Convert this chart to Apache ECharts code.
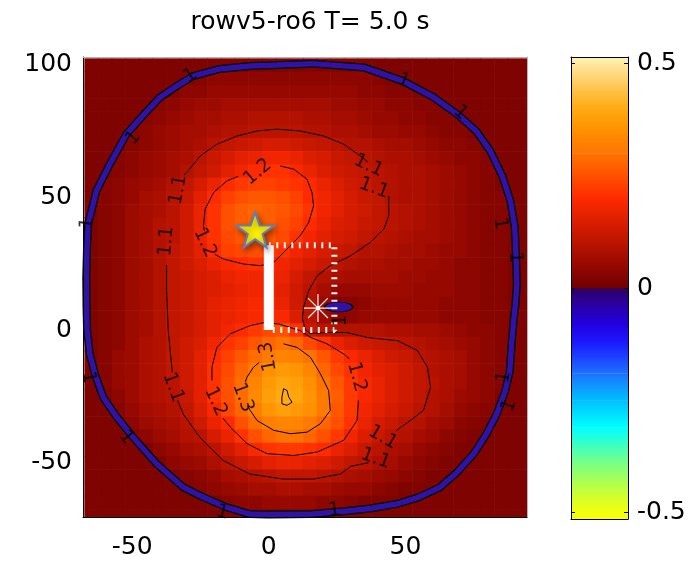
<!DOCTYPE html>
<html>
<head>
<meta charset="utf-8">
<script src="https://cdn.jsdelivr.net/npm/echarts@6/dist/echarts.min.js"></script>
<style>
  html, body { margin: 0; padding: 0; background: #ffffff; }
  #chart { width: 695px; height: 563px; }
</style>
</head>
<body>
<div id="chart"></div>
<script>
// ---- field grid (cell centres) ----
const fieldX = [-65,-60,-55,-50,-45,-40,-35,-30,-25,-20,-15,-10,-5,0,5,10,15,20,25,30,35,40,45,50,55,60,65,70,75,80,85,90,95];
const fieldY = [100,95,90,85,80,75,70,65,60,55,50,45,40,35,30,25,20,15,10,5,0,-5,-10,-15,-20,-25,-30,-35,-40,-45,-50,-55,-60,-65,-70];
const CELL = 5;

// field value x 100, one row per fieldY entry (top row first)
const fieldRows = [
  [2,2,2,2,2,2,2,2,2,2,2,2,2,2,2,2,2,2,2,2,2,2,2,2,2,2,2,2,2,2,2,2,2],
  [2,2,2,2,2,2,2,2,3,4,4,4,4,4,4,4,4,4,4,4,4,3,2,2,2,2,2,2,2,2,2,2,2],
  [2,2,2,2,2,2,3,4,4,5,5,5,5,5,5,5,5,5,5,5,4,4,3,3,2,2,2,2,2,2,2,2,2],
  [2,2,2,2,2,3,4,5,6,6,7,7,7,7,7,7,7,7,6,6,5,5,4,4,3,3,2,2,2,2,2,2,2],
  [2,2,2,2,3,4,5,6,7,7,8,8,9,9,9,9,8,8,7,7,6,5,5,4,4,3,3,2,2,2,2,2,2],
  [2,2,2,3,4,5,6,7,7,8,9,9,10,10,10,10,9,9,8,8,7,6,6,5,5,4,3,3,2,2,2,2,2],
  [2,2,2,3,4,5,6,7,8,10,11,12,13,14,14,13,12,11,10,9,9,8,7,7,6,5,4,4,3,2,2,2,2],
  [2,2,3,4,5,6,7,8,10,12,14,16,17,18,18,17,15,14,12,11,10,9,8,8,7,6,5,4,4,3,2,2,2],
  [2,2,3,4,5,6,7,9,11,13,16,18,20,21,21,19,17,15,13,12,11,10,9,8,8,7,6,5,4,3,2,2,2],
  [2,3,4,5,6,7,9,11,14,17,20,22,23,23,22,21,20,17,15,13,12,10,9,8,8,7,6,5,4,3,2,2,2],
  [2,3,4,5,7,8,10,12,16,20,23,25,26,26,25,23,20,18,16,14,12,11,9,8,8,7,6,5,4,3,3,2,2],
  [2,3,4,6,7,8,10,13,17,21,25,27,28,27,26,24,21,18,16,14,13,11,10,9,8,7,6,5,4,3,3,2,2],
  [2,3,4,6,7,9,10,13,17,21,25,27,28,27,25,23,20,17,15,14,12,11,10,9,8,7,6,5,4,3,3,2,2],
  [2,3,4,6,7,9,10,13,17,21,24,26,27,26,24,21,18,16,14,13,11,10,9,8,7,7,6,5,4,3,3,2,2],
  [2,3,4,6,7,9,11,13,16,20,23,24,25,23,21,18,16,14,12,11,9,9,8,7,7,6,5,5,4,3,3,2,2],
  [2,3,4,6,7,9,11,13,15,17,19,20,21,20,18,16,14,12,10,9,8,8,7,7,6,6,5,4,4,3,3,2,2],
  [2,3,4,6,7,9,11,12,14,15,17,18,18,18,17,14,11,9,8,7,7,7,7,6,6,5,5,4,4,3,3,2,2],
  [2,3,4,6,7,9,11,12,14,15,16,17,18,18,16,13,10,7,5,5,5,6,6,6,5,5,5,4,4,3,3,2,2],
  [2,3,4,6,7,9,11,12,14,16,17,18,19,19,17,13,9,5,2,3,4,5,5,5,5,5,4,4,4,3,3,2,2],
  [2,3,4,6,7,9,11,12,14,16,17,18,19,20,19,15,10,6,3,4,5,5,5,5,5,5,4,4,4,3,3,2,2],
  [2,3,4,6,7,9,11,12,14,16,18,20,22,24,25,21,12,10,9,9,9,9,8,8,7,7,6,5,4,4,3,2,2],
  [2,3,4,6,8,9,11,13,15,18,21,23,26,28,30,28,24,21,17,15,13,12,11,10,9,8,7,6,5,4,3,2,2],
  [2,3,5,6,8,9,11,13,16,20,23,26,29,31,33,32,30,26,22,19,17,15,13,12,10,9,8,7,5,4,3,2,2],
  [2,3,5,6,8,9,11,13,16,21,24,28,31,35,37,36,33,28,24,21,18,16,15,13,11,9,8,7,5,4,3,2,2],
  [2,3,5,6,8,9,10,13,16,21,25,29,33,37,39,38,35,30,26,22,19,17,15,13,11,10,8,7,5,4,3,2,2],
  [2,2,4,6,8,9,10,12,16,21,25,29,34,38,40,39,36,31,27,22,19,17,15,13,11,9,8,6,5,4,2,2,2],
  [2,2,3,5,7,8,9,11,15,19,24,28,32,36,38,37,35,31,26,22,18,16,14,12,10,9,7,5,4,3,2,2,2],
  [2,2,2,4,6,7,8,10,13,17,20,25,29,32,33,33,31,28,25,21,17,14,12,10,9,7,6,4,3,2,2,2,2],
  [2,2,2,3,4,6,7,9,10,14,17,21,25,28,30,30,28,25,22,18,15,12,10,9,7,6,4,3,2,2,2,2,2],
  [2,2,2,2,2,4,5,7,8,10,13,16,19,21,22,22,21,20,17,15,12,10,8,7,5,4,3,2,2,2,2,2,2],
  [2,2,2,2,2,2,4,5,6,8,10,12,14,16,17,17,16,15,13,11,10,8,7,5,4,3,2,2,2,2,2,2,2],
  [2,2,2,2,2,2,2,3,4,5,7,8,9,10,11,11,11,10,9,8,7,6,5,4,3,2,2,2,2,2,2,2,2],
  [2,2,2,2,2,2,2,2,3,4,5,6,7,7,8,8,7,7,6,5,5,4,3,2,2,2,2,2,2,2,2,2,2],
  [2,2,2,2,2,2,2,2,2,2,3,4,4,5,5,5,5,4,4,3,2,2,2,2,2,2,2,2,2,2,2,2,2],
  [2,2,2,2,2,2,2,2,2,2,2,2,2,2,2,2,2,2,2,2,2,2,2,2,2,2,2,2,2,2,2,2,2]
];

// thin negative band (level 1 contour zone) around the domain
const ringPath = [
  [16,100.5],[35,99],[49,94],[60,88],[69,81.4],[76,75],[81,67.6],[85.5,58],[88.4,48.8],[90,39],[90.4,30],
  [90.8,17.5],[90.3,10],[89.6,3.5],[88.8,-6],[88.2,-15.4],[86.5,-23],[83.4,-31.7],[79.5,-39.5],[74.9,-46.8],
  [69,-53.5],[62.7,-59.3],[55,-63],[46.8,-65.6],[37,-67.3],[28.5,-68.2],[16,-69.4],[0,-69.6],[-7,-69.4],
  [-15.5,-66.8],[-24,-63],[-31.3,-59.3],[-41,-50.5],[-49.6,-40.5],[-55.5,-33],[-60.6,-25.4],[-63.5,-17],
  [-65.5,-9.1],[-66.5,0],[-66.7,8.5],[-66.8,20],[-66.5,32],[-66.1,40],[-63.1,52.5],[-58.5,62],[-52.1,73.9],
  [-46,81],[-39.9,87.7],[-33,92.5],[-27.7,95.8],[-18,98.5],[-6.9,99.6],[16,100.5]
];
const negativePocket = [[25.6, 8.7]];

// contour segments (broken where labels sit)
const contour11 = [
  [[-31,58.5],[-30,59.4],[-25.1,65.7],[-19,70.1],[-11.6,73.2],[-4.3,75.1],[3,75.8],[11.5,75.1],[20.1,73.2],[27.4,70.1],[33.5,65.7],[36.2,63.4]],
  [[43.9,50.6],[43.9,43.1],[42.1,38.1],[37.2,33.1],[29.9,28],[22.5,24.3],[17.7,20.5],[14.6,14.9],[12.7,8.5],[12.3,4.3],[13.3,0.3],[15.2,-1.3],[21.4,-0.9],[28.5,-0.9],[36.1,-2.8],[47.1,-4],[54.4,-7.7],[58.1,-14.1],[59.2,-21.6],[56.6,-30.3],[51.8,-34.1],[46.5,-38]],
  [[36.5,-50],[29.9,-51.4],[26.2,-54.3],[16.3,-56.2],[5.3,-56.2],[-6.9,-54.3],[-16.7,-49.2],[-25.2,-40.5],[-31.3,-31.7],[-33.4,-26.5]],
  [[-35.3,-16],[-35.6,-15.4],[-36.8,-0.2],[-37.4,14.9],[-37.4,24.5]]
];
const contour12 = [
  [[4.2,61.9],[9.1,60.7],[14,56.9],[15.8,51.9],[16.4,46.9],[14.6,40.6],[11.5,35.6],[6.7,30.6],[1.8,25.5],[-3.1,24.3],[-9.2,24.9],[-16.6,26.8],[-19.8,28.6]],
  [[-23.6,37.5],[-23.9,39.3],[-23.3,45.6],[-20.2,51.9],[-15.3,56.3],[-11.2,58]],
  [[32.8,-26.5],[32.3,-34.1],[27.4,-41.6],[17.7,-46],[9.1,-47.3],[-0.7,-46.6],[-8,-42.8],[-14.1,-36.6],[-16.8,-33.2]],
  [[-20.8,-19],[-20.8,-14],[-19,-6.5],[-14.1,-1.4],[-6.8,1.7],[-1.3,2.9],[4,2.2],[11.5,-0.2],[15.2,-2.7],[21.3,-5.2],[27.4,-9],[29.5,-10.8]]
];
const contour13 = [
  [[5.4,-5.2],[10.3,-6.5],[15.2,-10.2],[18.9,-16.5],[21.9,-22.8],[22.5,-30.3],[18.9,-35.3],[14,-38.5],[7.9,-39.1],[1.8,-37.8],[-4.3,-34.1],[-6.8,-30.3],[-7.8,-28.5]],
  [[-8.6,-19.5],[-8,-17.8],[-5.6,-14],[-3.5,-12.2]]
];
const contour14 = [
  [[5.4,-22.1],[6.7,-22.8],[7.3,-25.3],[8.5,-27.2],[6.7,-28.4],[4.8,-27.8],[4.8,-25.3],[5.4,-22.1]]
];

// contour labels: x, y, text, angle
const contourLabels = [
  [-4, 59.6, '1.2', 40], [-23.4, 32.9, '1.2', -65],
  [-33.1, 52.9, '1.1', 80], [-37.5, 33.5, '1.1', 85],
  [36.5, 62, '1.1', -25], [38.5, 53.5, '1.1', -20],
  [-35, -21.6, '1.1', -70], [-19.5, -27, '1.2', -65],
  [-9.5, -25.4, '1.3', -70], [-0.2, -10, '1.3', 100],
  [32.2, -17.7, '1.2', -75], [41.7, -40.5, '1.1', -30], [39.1, -48.5, '1.1', -20],
  [-28.7, 95.9, '1', 33], [-49.6, 72.5, '1', 50], [-66.4, 40.2, '1', 82],
  [-66, -17.8, '1', -80], [-52.2, -40.5, '1', -51], [-17, -68.8, '1', -15],
  [24, -68, '1', 5], [49.3, 94, '1', -23], [70.2, 82, '1', -42],
  [84.7, 40.2, '1', -80], [90.2, 27.4, '1', -88], [86.1, -17.8, '1', 80],
  [88, -28.5, '1', 70], [26.3, 3.6, '1', 90]
];

// markers
const sourceBar = [[0, 0], [0, 32]];
const sourceBox = [[0, 32], [24, 32], [24, 0], [0, 0]];
const sourcePoint = [[-5, 37.8]];
const receiverPoint = [[18, 8.3]];

// axes
const xTicks = [-50, 0, 50];
const yTicks = [-50, 0, 50, 100];
const cbarTicks = [-0.5, 0, 0.5];
const X_RANGE = [-68, 94.5];
const Y_RANGE = [-70.5, 103];
const C_RANGE = [-0.514, 0.514];

// colour map: value -> colour
const cmapStops = [
  [-0.514, '#ffff00'], [-0.45, '#c4ff3a'], [-0.38, '#6cff92'], [-0.31, '#00ffff'],
  [-0.25, '#00c0ff'], [-0.19, '#1e70ff'], [-0.12, '#1c18ff'], [-0.08, '#2200e0'],
  [-0.04, '#2a00a8'], [0, '#2c0062'],
  [0, '#700000'], [0.05, '#960800'], [0.1, '#ba1400'], [0.15, '#dc1e00'],
  [0.2, '#ff2a00'], [0.25, '#ff5000'], [0.3, '#ff7400'], [0.35, '#ff9000'],
  [0.4, '#ffaa10'], [0.45, '#ffc858'], [0.5, '#ffe9a0'], [0.514, '#fff2b0']
];

function hexRgb(h) { return [1, 3, 5].map(i => parseInt(h.slice(i, i + 2), 16)); }
function cmapColor(v) {
  for (let k = 0; k < cmapStops.length - 1; k++) {
    const [v0, c0] = cmapStops[k], [v1, c1] = cmapStops[k + 1];
    if (v1 > v0 && v >= v0 && v < v1) {
      const t = (v - v0) / (v1 - v0), a = hexRgb(c0), b = hexRgb(c1);
      return 'rgb(' + a.map((c, i) => Math.round(c + (b[i] - c) * t)).join(',') + ')';
    }
  }
  return v < cmapStops[0][0] ? cmapStops[0][1] : cmapStops[cmapStops.length - 1][1];
}
const cmapSamples = [];
for (let i = 0; i <= 514; i++) cmapSamples.push(cmapColor(Math.round((C_RANGE[0] + i * 0.002) * 1000) / 1000));

const cbarSegments = [];
for (let k = 0; k < cmapStops.length - 1; k++) {
  if (cmapStops[k + 1][0] > cmapStops[k][0]) {
    cbarSegments.push([cmapStops[k][0], cmapStops[k + 1][0], cmapStops[k][1], cmapStops[k + 1][1]]);
  }
}

const fieldData = [];
fieldRows.forEach((row, i) => row.forEach((v, j) => fieldData.push([fieldX[j], fieldY[i], v / 100])));

const FONT = 'DejaVu Sans';
const tickText = { fontFamily: FONT, fontSize: 25, color: '#000' };

function segSeries(pts, width, color, z) {
  return {
    type: 'line', xAxisIndex: 0, yAxisIndex: 0, data: pts, symbol: 'none', showSymbol: false,
    silent: true, z: z, lineStyle: { color: color, width: width, join: 'round' }
  };
}
function noAxisBits(extra) {
  return Object.assign({
    type: 'value', z: 10, splitLine: { show: false }, axisTick: { show: false },
    axisLabel: { show: false }
  }, extra);
}

const series = [];
// field
series.push({
  type: 'custom', xAxisIndex: 0, yAxisIndex: 0, data: fieldData, clip: true, silent: true, z: 1,
  encode: { x: 0, y: 1 },
  renderItem: function (params, api) {
    const x = api.value(0), y = api.value(1);
    const a = api.coord([x - CELL / 2, y + CELL / 2]);
    const b = api.coord([x + CELL / 2, y - CELL / 2]);
    return {
      type: 'rect',
      shape: { x: a[0], y: a[1], width: b[0] - a[0] + 0.6, height: b[1] - a[1] + 0.6 },
      style: { fill: api.visual('color') }
    };
  }
});
// negative band with its level-1 outlines
series.push(segSeries(ringPath, 8, '#000000', 3));
series.push(segSeries(ringPath, 5.5, '#3012a4', 3));
// contour lines
[contour11, contour12, contour13, contour14].forEach(level => level.forEach(seg => series.push(segSeries(seg, 1, '#000000', 4))));
// small negative pocket next to the receiver
series.push({
  type: 'scatter', xAxisIndex: 0, yAxisIndex: 0, data: negativePocket, symbol: 'circle', symbolSize: [28, 10],
  silent: true, z: 4, itemStyle: { color: '#3012a4', borderColor: '#000', borderWidth: 1, opacity: 1 }
});
// source bar and dotted box
series.push(Object.assign(segSeries(sourceBar, 10, '#ffffff', 5), { lineStyle: { color: '#ffffff', width: 10, cap: 'butt' } }));
series.push(Object.assign(segSeries(sourceBox, 6, '#ffffff', 5), {
  lineStyle: { color: 'rgba(255,255,255,0.95)', width: 6, type: [2, 5.5], cap: 'butt' }
}));
// labels
series.push({
  type: 'scatter', xAxisIndex: 0, yAxisIndex: 0, silent: true, z: 6, symbolSize: 1,
  itemStyle: { color: 'rgba(0,0,0,0)' },
  data: contourLabels.map(l => ({ value: [l[0], l[1]], label: { formatter: l[2], rotate: l[3] } })),
  label: { show: true, position: 'inside', color: '#000', fontFamily: FONT, fontSize: 19 }
});
// star (source)
series.push({
  type: 'scatter', xAxisIndex: 0, yAxisIndex: 0, data: sourcePoint, silent: true, z: 8,
  symbol: 'path://M50,0 L61.8,35.1 L98.9,35.1 L69.1,57.3 L79.4,92.7 L50,71 L20.6,92.7 L30.9,57.3 L1.1,35.1 L38.2,35.1 Z',
  symbolSize: [38, 35],
  itemStyle: {
    color: '#fff200', borderColor: '#5b7fbf', borderWidth: 2, opacity: 1,
    shadowBlur: 6, shadowColor: 'rgba(0,0,0,0.4)', shadowOffsetX: 2, shadowOffsetY: 3
  }
});
// asterisk (receiver)
series.push({
  type: 'scatter', xAxisIndex: 0, yAxisIndex: 0, data: receiverPoint, silent: true, z: 8,
  symbol: 'path://M0,10 L20,10 M10,0 L10,20 M2.9,2.9 L17.1,17.1 M17.1,2.9 L2.9,17.1',
  symbolSize: 28,
  itemStyle: { color: 'rgba(0,0,0,0)', borderColor: 'rgba(255,255,255,0.95)', borderWidth: 1.2, opacity: 1 }
});
series.push({
  type: 'scatter', xAxisIndex: 0, yAxisIndex: 0, data: receiverPoint, silent: true, z: 9,
  symbol: 'circle', symbolSize: 4, itemStyle: { color: '#ffffff', opacity: 1 }
});
// colour bar
series.push({
  type: 'custom', xAxisIndex: 2, yAxisIndex: 2, silent: true, z: 1,
  data: cbarSegments.map(s => [0, s[0], s[1]]), encode: { x: 0, y: [1, 2] },
  renderItem: function (params, api) {
    const s = cbarSegments[params.dataIndex];
    const top = api.coord([0, s[1]]);
    const bot = api.coord([1, s[0]]);
    return {
      type: 'rect',
      shape: { x: top[0], y: top[1], width: bot[0] - top[0], height: bot[1] - top[1] + 0.4 },
      style: {
        fill: new echarts.graphic.LinearGradient(0, 0, 0, 1, [
          { offset: 0, color: s[3] }, { offset: 1, color: s[2] }
        ])
      }
    };
  }
});

const chart = echarts.init(document.getElementById('chart'), null, { renderer: 'canvas' });
chart.setOption({
  animation: false,
  backgroundColor: '#ffffff',
  title: {
    text: 'rowv5-ro6 T= 5.0 s', left: 305, textAlign: 'center', top: 5,
    textStyle: { fontFamily: FONT, fontSize: 25, fontWeight: 'normal', color: '#000' }
  },
  grid: [
    { left: 83, top: 57, width: 444, height: 460 },
    { left: 571, top: 57, width: 57, height: 462 }
  ],
  visualMap: {
    type: 'continuous', show: false, seriesIndex: 0, dimension: 2,
    min: C_RANGE[0], max: C_RANGE[1], inRange: { color: cmapSamples }
  },
  xAxis: [
    noAxisBits({
      gridIndex: 0, min: X_RANGE[0], max: X_RANGE[1], position: 'bottom',
      axisLine: { show: true, onZero: false, lineStyle: { color: '#000', width: 1 } },
      axisLabel: Object.assign({ show: true, margin: 18, customValues: xTicks }, tickText)
    }),
    noAxisBits({
      gridIndex: 0, min: X_RANGE[0], max: X_RANGE[1], position: 'top',
      axisLine: { show: true, onZero: false, lineStyle: { color: '#b4b4b4', width: 1 } }
    }),
    noAxisBits({
      gridIndex: 1, min: 0, max: 1, position: 'bottom',
      axisLine: { show: true, onZero: false, lineStyle: { color: '#000', width: 1 } }
    }),
    noAxisBits({
      gridIndex: 1, min: 0, max: 1, position: 'top',
      axisLine: { show: true, onZero: false, lineStyle: { color: '#000', width: 1 } }
    })
  ],
  yAxis: [
    noAxisBits({
      gridIndex: 0, min: Y_RANGE[0], max: Y_RANGE[1], position: 'left',
      axisLine: { show: true, onZero: false, lineStyle: { color: '#000', width: 1 } },
      axisLabel: Object.assign({ show: true, margin: 11, customValues: yTicks }, tickText)
    }),
    noAxisBits({
      gridIndex: 0, min: Y_RANGE[0], max: Y_RANGE[1], position: 'right',
      axisLine: { show: true, onZero: false, lineStyle: { color: '#b4b4b4', width: 1 } }
    }),
    noAxisBits({
      gridIndex: 1, min: C_RANGE[0], max: C_RANGE[1], position: 'right',
      axisLine: { show: true, onZero: false, lineStyle: { color: '#000', width: 1 } },
      axisTick: { show: true, inside: true, length: 4, customValues: cbarTicks, lineStyle: { color: '#000' } },
      axisLabel: Object.assign({ show: true, margin: 9, customValues: cbarTicks }, tickText)
    }),
    noAxisBits({
      gridIndex: 1, min: C_RANGE[0], max: C_RANGE[1], position: 'left',
      axisLine: { show: true, onZero: false, lineStyle: { color: '#000', width: 1 } },
      axisTick: { show: true, inside: true, length: 4, customValues: cbarTicks, lineStyle: { color: '#000' } }
    })
  ],
  series: series
});
</script>
</body>
</html>
